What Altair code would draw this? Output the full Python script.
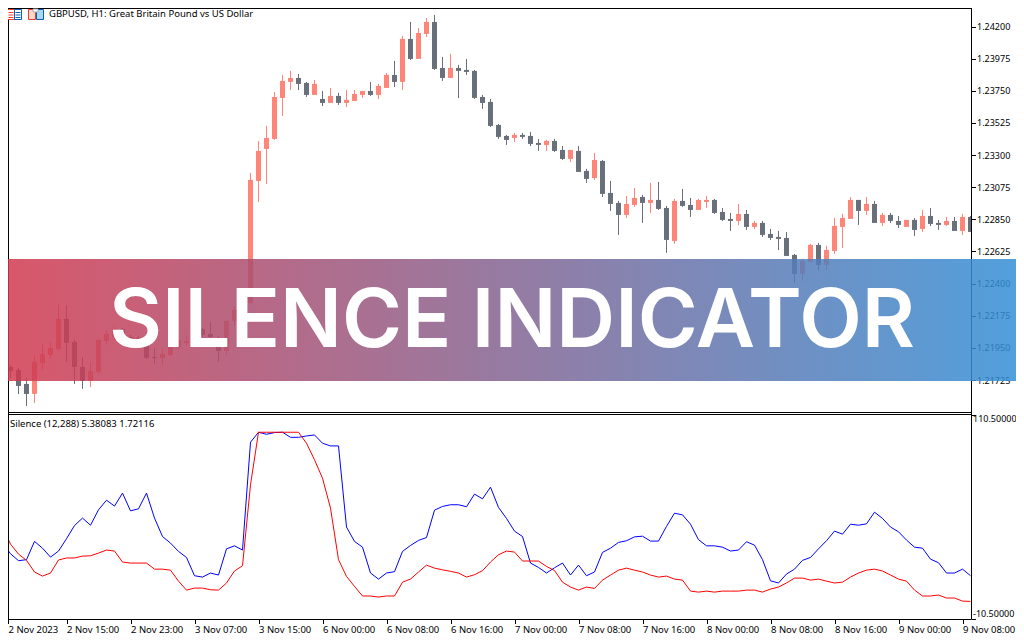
from __future__ import annotations

import json

import altair as alt
import pandas as pd

FONT = "Noto Sans"
BULL = "#ff8578"
BEAR = "#697079"

# GBPUSD H1, prices in points (1 point = 0.00001)
open_pts = [
    121775, 121817, 121796, 121698, 121628, 121845, 121901, 121943, 122153, 121992, 121817, 121719,
    121782, 121999, 122027, 122083, 122027, 122020, 121971, 121887, 121880, 121901, 121957, 121985,
    122020, 122083, 122048, 122020, 121929, 122139, 122216, 122265, 123119, 123343, 123413, 123700,
    123812, 123840, 123805, 123721, 123693, 123665, 123714, 123665, 123679, 123721, 123749, 123721,
    123770, 123861, 123812, 124113, 123973, 124148, 124232, 123910, 123840, 123910, 123896, 123889,
    123707, 123672, 123511, 123434, 123420, 123441, 123434, 123385, 123371, 123399, 123336, 123273,
    123329, 123189, 123140, 123259, 123035, 122965, 122881, 122951, 123007, 122965, 122986, 122930,
    122699, 122979, 122951, 122916, 122972, 122986, 122902, 122853, 122839, 122888, 122797, 122825,
    122748, 122727, 122720, 122601, 122468, 122552, 122671, 122531, 122629, 122797, 122853, 122986,
    122909, 122958, 122825, 122881, 122839, 122797, 122846, 122783, 122874, 122825, 122811, 122839,
    122769, 122867,
]
high_pts = [
    121852, 121831, 121810, 121740, 121901, 121971, 121992, 122251, 122251, 122006, 121887, 121852,
    122013, 122076, 122097, 122090, 122041, 122034, 121985, 121950, 121943, 122027, 122020, 122034,
    122034, 122090, 122132, 122034, 122146, 122244, 122279, 123175, 123399, 123504, 123742, 123861,
    123889, 123868, 123812, 123826, 123749, 123770, 123735, 123756, 123756, 123749, 123812, 123798,
    123875, 123959, 124134, 124232, 124190, 124260, 124281, 123987, 124008, 123931, 123973, 123896,
    123721, 123693, 123518, 123441, 123455, 123455, 123462, 123413, 123406, 123413, 123364, 123336,
    123364, 123203, 123315, 123266, 123119, 122979, 123014, 123070, 123021, 123105, 123112, 122944,
    122993, 123063, 123000, 122993, 123014, 122993, 122930, 122895, 122958, 122916, 122839, 122839,
    122783, 122769, 122762, 122608, 122573, 122678, 122685, 122664, 122860, 122888, 123007, 122986,
    123007, 122979, 122895, 122895, 122874, 122846, 122860, 122916, 122930, 122846, 122867, 122867,
    122888, 122874,
]
low_pts = [
    121740, 121740, 121628, 121544, 121565, 121796, 121880, 121929, 121852, 121698, 121663, 121677,
    121768, 121971, 122006, 122006, 121985, 121971, 121873, 121838, 121831, 121894, 121943, 121964,
    121971, 122027, 122006, 121852, 121894, 122104, 122202, 122251, 122972, 123098, 123406, 123574,
    123756, 123756, 123707, 123721, 123644, 123665, 123651, 123637, 123679, 123700, 123714, 123693,
    123770, 123777, 123756, 123966, 123973, 124127, 123896, 123819, 123840, 123700, 123861, 123693,
    123623, 123497, 123413, 123371, 123392, 123413, 123364, 123329, 123329, 123322, 123266, 123252,
    123182, 123105, 123126, 123007, 122909, 122741, 122860, 122937, 122825, 122895, 122916, 122615,
    122678, 122937, 122867, 122916, 122930, 122888, 122839, 122769, 122811, 122776, 122783, 122727,
    122706, 122636, 122594, 122405, 122419, 122552, 122496, 122496, 122608, 122650, 122853, 122811,
    122881, 122825, 122804, 122825, 122790, 122797, 122734, 122762, 122804, 122776, 122804, 122769,
    122741, 122762,
]
close_pts = [
    121824, 121789, 121684, 121628, 121852, 121908, 121950, 122153, 121985, 121817, 121719, 121789,
    122006, 122048, 122083, 122034, 122013, 122013, 121880, 121880, 121908, 122020, 122006, 121999,
    121985, 122041, 122027, 121929, 122139, 122216, 122265, 123126, 123329, 123420, 123707, 123819,
    123840, 123798, 123721, 123798, 123665, 123714, 123665, 123686, 123728, 123749, 123721, 123784,
    123861, 123812, 124113, 123973, 124155, 124232, 123903, 123840, 123910, 123889, 123882, 123700,
    123665, 123504, 123427, 123406, 123441, 123427, 123378, 123371, 123399, 123329, 123273, 123336,
    123182, 123133, 123266, 123028, 122958, 122881, 122958, 123000, 122965, 122986, 122923, 122706,
    122979, 122944, 122916, 122986, 122986, 122895, 122846, 122839, 122888, 122797, 122825, 122741,
    122720, 122713, 122594, 122468, 122559, 122671, 122531, 122636, 122804, 122860, 122986, 122909,
    122958, 122825, 122881, 122839, 122811, 122846, 122776, 122874, 122818, 122811, 122839, 122769,
    122867, 122762,
]

silence_fast = [
    34.4, 28.1, 24.0, 24.6, 35.4, 31.4, 26.1, 29.7, 37.0, 44.8, 49.2, 45.0, 54.1, 59.8, 56.3, 64.0,
    53.5, 54.7, 64.0, 49.2, 38.3, 34.4, 29.5, 25.9, 15.1, 14.3, 16.7, 15.5, 31.0, 32.8, 30.3, 94.1,
    100.0, 98.8, 99.8, 100.0, 97.0, 97.0, 97.8, 98.4, 93.5, 91.9, 91.9,
    43.9, 35.4, 32.0, 16.7, 13.1, 16.7, 17.5, 29.5, 33.0, 36.0, 37.7, 53.9, 56.1, 57.1, 57.1, 55.9,
    63.4, 60.6, 67.5, 55.5, 49.0, 41.5, 38.3, 22.6, 20.0, 16.7, 19.8, 22.6, 15.5, 21.4, 15.1, 17.3,
    28.9, 31.4, 34.8, 35.8, 38.1, 38.5, 35.6, 35.6, 44.3, 52.1,
    51.1, 45.6, 36.4, 32.8, 32.8, 32.0, 29.7, 30.3, 35.2, 33.2, 24.6, 12.1, 10.8, 16.1, 19.0, 24.2,
    25.9, 31.0, 35.8, 41.5, 39.7, 45.6, 45.0, 45.8, 52.7, 49.0, 43.9, 41.1, 36.2, 32.0, 31.4, 24.9,
    22.8, 16.7, 16.7, 19.0, 15.1,
]
silence_slow = [
    43.9, 33.8, 27.9, 24.2, 17.3, 14.9, 16.7, 24.4, 25.6, 25.6, 26.7, 26.9, 28.5, 30.3, 29.7, 23.2,
    22.6, 22.6, 22.6, 19.0, 19.0, 18.4, 11.9, 6.6, 7.8, 7.8, 6.8, 6.6, 10.8, 17.9, 21.0, 68.9,
    100.0, 100.0, 100.0, 100.0, 100.0, 100.0, 93.5, 83.7, 72.8, 55.1, 24.6,
    14.7, 8.8, 3.1, 3.1, 2.5, 3.1, 3.1, 11.3, 13.1, 17.3, 21.4, 19.6, 18.6, 17.7, 16.7, 14.3, 15.7,
    18.1, 23.2, 27.5, 29.7, 29.1, 23.8, 23.8, 23.8, 20.6, 18.2, 11.3, 8.4, 6.6, 8.4, 7.6, 12.5, 15.5,
    18.4, 19.6, 18.4, 17.3, 15.5, 14.3, 14.9, 13.1,
    12.5, 6.0, 5.4, 6.0, 5.4, 6.0, 6.0, 6.0, 6.6, 6.6, 5.4, 7.2, 8.4, 10.8, 13.7, 13.7, 12.5, 13.1,
    11.9, 10.8, 11.3, 14.3, 16.7, 18.4, 19.0, 17.9, 15.5, 13.1, 11.9, 6.6, 3.1, 3.1, 3.7, 1.9, 1.9,
    0.1, -0.1,
]

price_ticks = [1.242, 1.23975, 1.2375, 1.23525, 1.233, 1.23075, 1.2285, 1.22625, 1.224, 1.22175, 1.2195, 1.21725]
silence_ticks = [110.5, -10.5]
silence_tick_labels = ["110.50000", "-10.50000"]
time_ticks = [0.6875] + [8 * n for n in range(1, 16)]
time_labels = [
    "2 Nov 2023", "2 Nov 15:00", "2 Nov 23:00", "3 Nov 07:00", "3 Nov 15:00", "6 Nov 00:00",
    "6 Nov 08:00", "6 Nov 16:00", "7 Nov 00:00", "7 Nov 08:00", "7 Nov 16:00", "8 Nov 00:00",
    "8 Nov 08:00", "8 Nov 16:00", "9 Nov 00:00", "9 Nov 08:00",
]

W, H = 1008, 632
RIGHT_LINE = 963.5
x_scale = alt.Scale(domain=[0.6875, 126.6875], nice=False, zero=False)
price_scale = alt.Scale(domain=[1.199055, 1.243295], nice=False, zero=False)
silence_scale = alt.Scale(domain=[-22.93, 351.03], nice=False, zero=False)

candles = pd.DataFrame(
    {
        "bar": range(len(open_pts)),
        "open": [v / 100000 for v in open_pts],
        "high": [v / 100000 for v in high_pts],
        "low": [v / 100000 for v in low_pts],
        "close": [v / 100000 for v in close_pts],
    }
)
candles["side"] = ["up" if c >= o else "down" for o, c in zip(candles["open"], candles["close"])]
candles["body_low"] = candles[["open", "close"]].min(axis=1)
candles["body_high"] = candles[["open", "close"]].max(axis=1)
# the last candle is cut by the price axis
candles["left"] = candles["bar"] - 0.3125
candles["right"] = (candles["bar"] + 0.3125).clip(upper=121.12)
side_color = alt.Color("side:N", scale=alt.Scale(domain=["up", "down"], range=[BULL, BEAR]), legend=None)

silence = pd.DataFrame({"bar": range(len(silence_fast)), "fast": silence_fast, "slow": silence_slow})

time_expr = json.dumps(time_labels) + "[round(datum.value / 8)]"
time_axis = alt.Axis(
    values=time_ticks,
    labelExpr=time_expr,
    title=None,
    grid=False,
    domain=False,
    offset=-20.5,
    tickSize=4,
    tickColor="black",
    labelAlign="left",
    labelBaseline="top",
    labelPadding=1,
    labelFlush=False,
    labelOverlap=False,
    labelFont=FONT,
    labelFontSize=9.5,
    labelColor="black",
)
price_axis = alt.Axis(
    orient="right",
    values=price_ticks,
    format=".5f",
    title=None,
    grid=False,
    domain=False,
    offset=RIGHT_LINE - W,
    tickSize=4,
    tickColor="black",
    labelPadding=1,
    labelOverlap=False,
    labelFlush=False,
    labelFont=FONT,
    labelFontSize=9,
    labelColor="black",
)
silence_axis = alt.Axis(
    orient="right",
    values=silence_ticks,
    labelExpr=f"datum.value > 50 ? '{silence_tick_labels[0]}' : '{silence_tick_labels[1]}'",
    labelBaseline=alt.expr("datum.value > 50 ? 'top' : 'bottom'"),
    title=None,
    grid=False,
    domain=False,
    offset=RIGHT_LINE - W,
    tickSize=4,
    tickColor="black",
    labelPadding=-3,
    labelOverlap=False,
    labelFlush=False,
    labelFont=FONT,
    labelFontSize=9,
    labelColor="black",
)

wicks = (
    alt.Chart(candles)
    .mark_rule(strokeWidth=1)
    .encode(
        x=alt.X("bar:Q", scale=x_scale, axis=time_axis),
        y=alt.Y("low:Q", scale=price_scale, axis=price_axis),
        y2="high:Q",
        color=side_color,
    )
)
bodies = (
    alt.Chart(candles)
    .mark_rect()
    .encode(
        x=alt.X("left:Q", scale=x_scale, axis=time_axis),
        x2="right:Q",
        y=alt.Y("body_low:Q", scale=price_scale, axis=None),
        y2="body_high:Q",
        color=side_color,
    )
)
fast_line = (
    alt.Chart(silence)
    .mark_line(color="#0000ff", strokeWidth=1)
    .encode(
        x=alt.X("bar:Q", scale=x_scale, axis=time_axis),
        y=alt.Y("fast:Q", scale=silence_scale, axis=silence_axis),
    )
)
slow_line = (
    alt.Chart(silence)
    .mark_line(color="#ff0000", strokeWidth=1)
    .encode(
        x=alt.X("bar:Q", scale=x_scale, axis=time_axis),
        y=alt.Y("slow:Q", scale=silence_scale, axis=None),
    )
)


def frame_line(x, y, x2=None, y2=None):
    enc = {"x": alt.value(x), "y": alt.value(y)}
    if x2 is not None:
        enc["x2"] = alt.value(x2)
    if y2 is not None:
        enc["y2"] = alt.value(y2)
    return alt.Chart().mark_rule(color="black", strokeWidth=1).encode(**enc)


def box(x, y, w, h, stroke=None, fill=None):
    style = {}
    if stroke:
        style["stroke"] = stroke
        style["strokeWidth"] = 1
    style["fill"] = fill if fill else "transparent"
    return (
        alt.Chart()
        .mark_rect(**style)
        .encode(x=alt.value(x), x2=alt.value(x + w), y=alt.value(y), y2=alt.value(y + h))
    )


def label(text, x, y):
    return (
        alt.Chart()
        .mark_text(text=text, font=FONT, fontSize=9.5, color="black", align="left", baseline="middle")
        .encode(x=alt.value(x), y=alt.value(y))
    )


frame = [
    frame_line(0.5, 0, y2=611.5),
    frame_line(0, 0.5, x2=RIGHT_LINE),
    frame_line(RIGHT_LINE, 0, y2=611.5),
    frame_line(0, 404.5, x2=RIGHT_LINE),
    frame_line(0, 406.5, x2=RIGHT_LINE),
    frame_line(0, 611.5, x2=RIGHT_LINE),
]

icons = [
    box(-0.5, 1.5, 7, 10, stroke="#f03a2e", fill="white"),
    box(6.5, 1.5, 7, 10, stroke="#0a5fb0", fill="white"),
    box(0.5, 4, 5, 1, fill="#f03a2e"),
    box(0.5, 6.5, 5, 1, fill="#f03a2e"),
    box(0.5, 9, 5, 1, fill="#f03a2e"),
    box(7.5, 4, 5, 1, fill="#0a5fb0"),
    box(7.5, 6.5, 5, 1, fill="#0a5fb0"),
    box(7.5, 9, 5, 1, fill="#0a5fb0"),
    box(20.5, 1.5, 7, 10, stroke="#f03a2e", fill="#ffd8cc"),
    box(28.5, 1.5, 7, 10, stroke="#0a5fb0", fill="#a4d8f4"),
    box(25, 1, 5, 3, stroke="#b0b0b0", fill="white"),
]

banner = (
    alt.Chart()
    .mark_rect(
        color=alt.LinearGradient(
            gradient="linear",
            stops=[
                alt.GradientStop(color="#d2394f", offset=0),
                alt.GradientStop(color="#338fd6", offset=1),
            ],
            x1=0,
            x2=1,
            y1=0,
            y2=0,
        ),
        opacity=0.85,
    )
    .encode(x=alt.value(0), x2=alt.value(W), y=alt.value(251), y2=alt.value(373))
)
banner_text = (
    alt.Chart()
    .mark_text(
        text="SILENCE INDICATOR",
        font="Inter",
        fontSize=81.5,
        fontWeight=600,
        color="white",
        align="center",
        baseline="middle",
    )
    .encode(x=alt.value(504), y=alt.value(315))
)

chart = (
    alt.layer(
        wicks,
        bodies,
        fast_line,
        slow_line,
        *frame,
        *icons,
        label("GBPUSD, H1:  Great Britain Pound vs US Dollar", 41, 5.5),
        label("Silence (12,288) 5.38083 1.72116", 2, 415.5),
        banner,
        banner_text,
    )
    .resolve_scale(y="independent")
    .resolve_axis(y="independent")
    .properties(width=W, height=H, padding=0, autosize=alt.AutoSizeParams(type="none"))
    .configure_view(stroke=None)
)

chart.save("out.html", embed_options={"renderer": "svg", "actions": False})
